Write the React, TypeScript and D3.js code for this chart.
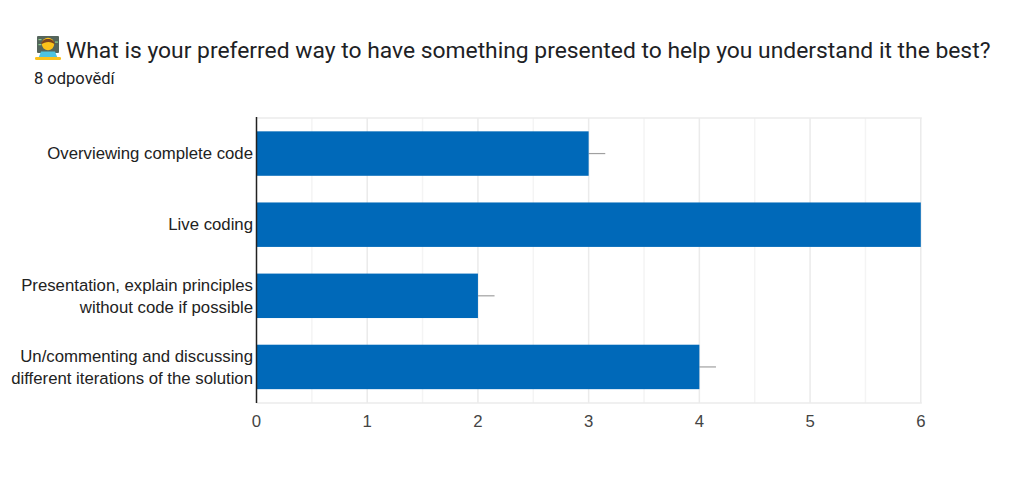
import React from "react";
import * as d3 from "d3";

const categories = [
  ["Overviewing complete code"],
  ["Live coding"],
  ["Presentation, explain principles", "without code if possible"],
  ["Un/commenting and discussing", "different iterations of the solution"],
];
const counts = [3, 6, 2, 4];
const whiskerExtents = [3.15, 6, 2.15, 4.15];
const xTicks = [0, 1, 2, 3, 4, 5, 6];
const xGrid = [0.5, 1, 1.5, 2, 2.5, 3, 3.5, 4, 4.5, 5, 5.5, 6];
const titleText = "What is your preferred way to have something presented to help you understand it the best?";
const subtitleText = "8 odpovědí";

const W = 1024, H = 487;
const plot = { l: 256.5, r: 920.8, t: 118, b: 403 };

export default function App() {
  const x = d3.scaleLinear().domain([0, 6]).range([plot.l, plot.r]);
  const y = d3.scaleBand<number>().domain(d3.range(counts.length)).range([plot.t, plot.b - 0.5]).paddingInner(0.375).paddingOuter(0.1875);
  const sans = "'Liberation Sans', Arial, sans-serif";
  return (
    <svg width={W} height={H} style={{ position: "absolute", left: 0, top: 0, background: "#fff" }}>
      <rect x={0} y={0} width={W} height={H} fill="#fff" />
      {/* technologist emoji */}
      <g transform="translate(35,36)">
        <rect x={2} y={0} width={22} height={17} fill="#55655c" rx={1} />
        <rect x={3.5} y={3} width={3} height={1.2} fill="#8bd08b" />
        <rect x={20} y={5.5} width={3} height={1.2} fill="#8bd08b" />
        <rect x={3.5} y={8} width={3} height={1.2} fill="#8bd08b" />
        <circle cx={13} cy={8} r={6.2} fill="#fcc21b" />
        <path d="M6.2 8.5 C6 1 20 1 19.8 8.5 C17 5 10 5 6.2 8.5z" fill="#7a4420" />
        <path d="M5 23 C5 14 21 14 21 23z" fill="#fcc21b" />
        <path d="M3 23 L6 15.5 H20 L23 23z" fill="#4fc3e0" />
        <rect x={0} y={21} width={26} height={3} fill="#fcc21b" rx={1.3} />
      </g>
      <text x={66} y={57.5} fontFamily="Roboto, sans-serif" fontSize={22.85} fill="#202124">{titleText}</text>
      <text x={34} y={84} fontFamily="Roboto, sans-serif" fontSize={16.5} fill="#202124">{subtitleText}</text>

      {xGrid.map((v) => (
        <line key={v} x1={x(v)} x2={x(v)} y1={plot.t} y2={plot.b} stroke={Number.isInteger(v) ? "#ebebeb" : "#f4f4f4"} strokeWidth={1.5} />
      ))}
      <line x1={plot.l} x2={plot.r + 1} y1={plot.t} y2={plot.t} stroke="#ebebeb" strokeWidth={1.5} />
      <line x1={plot.l} x2={plot.r + 1} y1={plot.b} y2={plot.b} stroke="#ebebeb" strokeWidth={1.5} />

      {counts.map((c, i) => {
        const top = y(i)!, bh = y.bandwidth();
        const cy = top + bh / 2;
        return (
          <g key={i}>
            <line x1={x(c)} x2={x(whiskerExtents[i])} y1={cy} y2={cy} stroke="#a0a0a0" strokeWidth={1.2} />
            <rect x={x(0)} y={top} width={x(c) - x(0)} height={bh} fill="#0069b9" />
          </g>
        );
      })}

      <line x1={plot.l} x2={plot.l} y1={plot.t - 1} y2={plot.b} stroke="#222" strokeWidth={1.5} />

      {categories.map((lines, i) => {
        const cy = y(i)! + y.bandwidth() / 2;
        const start = lines.length === 1 ? cy + 5 : cy - 11 + 6;
        return (
          <text key={i} textAnchor="end" fontFamily={sans} fontSize={16.75} fill="#222">
            {lines.map((t, k) => (
              <tspan key={k} x={253} y={start + k * 22}>{t}</tspan>
            ))}
          </text>
        );
      })}
      {xTicks.map((t) => (
        <text key={t} x={x(t)} y={427} textAnchor="middle" fontFamily={sans} fontSize={16.75} fill="#444">{t}</text>
      ))}
    </svg>
  );
}
